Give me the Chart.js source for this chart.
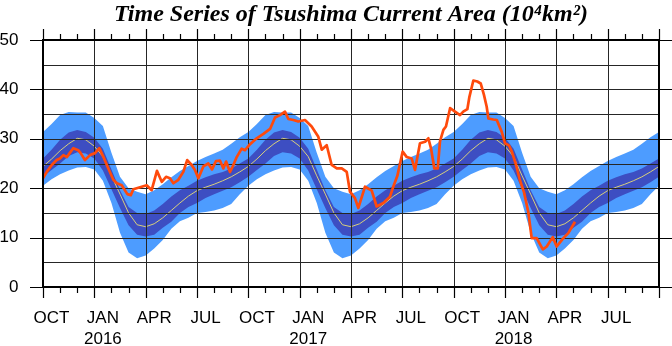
<!DOCTYPE html>
<html><head><meta charset="utf-8">
<script src="https://cdn.jsdelivr.net/npm/chart.js@4"></script>
<style>html,body{margin:0;padding:0;background:#fff}</style>
</head><body>
<canvas id="c" width="672" height="346" style="width:672px;height:346px;display:block"></canvas>
<script>
// Climatology (one seasonal cycle, half-month steps from Oct 1), 10^4 km^2
const climMonths      = [0,0.5,1,1.5,2,2.5,3,3.5,4,4.5,5,5.5,6,6.5,7,7.5,8,8.5,9,9.5,10,10.5,11,11.5];
const climLightUpper  = [31.4,33.0,34.8,35.4,35.3,35.3,34.2,32.6,27.2,22.3,20.0,19.3,18.8,19.6,20.8,22.2,23.5,24.5,25.5,26.3,27.0,27.8,29.0,30.3];
const climDarkUpper   = [26.0,27.8,29.8,31.3,31.8,31.4,30.2,28.0,23.8,19.6,16.2,15.0,14.8,15.5,16.8,18.3,19.6,20.5,21.5,22.2,22.8,23.3,24.0,25.0];
const climMean        = [24.4,25.9,27.6,29.0,30.1,29.8,28.5,26.4,22.5,18.8,15.0,12.6,12.2,12.8,14.0,15.5,17.0,18.4,19.5,20.2,20.8,21.5,22.3,23.3];
const climDarkLower   = [22.3,23.7,25.0,26.5,27.3,27.0,26.0,23.6,19.8,16.0,12.5,10.6,10.2,10.6,12.0,13.2,15.0,16.2,17.0,18.0,18.8,19.5,20.2,21.2];
const climLightLower  = [20.5,21.8,22.8,23.6,24.2,24.3,23.8,21.5,17.0,11.0,7.0,5.8,6.4,7.8,9.5,11.8,13.3,14.0,15.0,15.2,15.5,16.0,16.8,18.8];
const climYears = 3; // Oct 2015 - Oct 2018

// Observed series (months since 1 Oct 2015)
const obsMonths = [0.00,0.22,0.51,0.80,0.99,1.19,1.40,1.58,1.77,2.06,2.20,2.45,2.75,3.04,3.29,3.52,3.82,4.11,4.32,4.60,4.93,5.13,5.28,5.67,6.06,6.35,6.66,6.94,7.19,7.42,7.62,7.91,8.20,8.43,8.69,8.88,9.08,9.37,9.66,9.88,10.11,10.34,10.54,10.70,10.93,11.10,11.32,11.61,11.81,12.10,12.49,12.88,13.27,13.56,13.85,14.14,14.34,14.63,14.92,15.31,15.70,16.09,16.29,16.58,16.87,17.17,17.46,17.75,17.94,18.23,18.43,18.82,19.21,19.50,19.89,20.28,20.47,20.71,21.02,21.26,21.55,21.74,22.03,22.33,22.52,22.68,22.87,23.07,23.20,23.40,23.55,23.79,24.08,24.37,24.56,24.80,24.92,25.15,25.38,25.58,25.77,25.93,26.03,26.32,26.52,26.81,27.00,27.24,27.41,27.64,27.88,28.11,28.36,28.56,28.85,29.21,29.44,29.79,30.02,30.41,30.70,31.09];
const obsValues = [22.0,23.3,24.7,25.7,26.0,26.7,26.3,27.2,28.1,27.7,27.1,25.7,26.7,27.1,28.1,26.4,24.0,21.7,21.0,20.6,18.8,18.6,19.8,20.2,20.6,19.6,23.5,21.3,22.3,22.0,21.0,21.7,23.3,25.7,24.7,23.7,22.0,24.4,25.0,23.8,25.5,25.6,24.0,25.4,23.3,24.5,26.3,28.0,27.7,28.9,30.1,31.0,32.0,34.3,34.8,35.5,34.0,33.8,33.5,33.8,32.5,30.4,27.8,28.7,24.7,24.0,24.0,23.3,19.3,18.0,16.0,20.3,19.5,16.3,17.0,18.3,20.3,22.5,27.4,26.3,26.0,23.7,29.1,29.4,30.1,28.0,24.0,24.0,29.5,31.8,32.5,36.2,35.5,34.8,35.5,36.0,38.5,41.8,41.6,41.2,38.9,36.5,34.1,33.9,33.8,31.4,29.1,28.6,27.3,24.8,21.5,19.2,15.2,9.9,9.9,7.6,8.2,10.1,8.2,9.9,10.9,13.2];

// Axis labels
const xLabelMonths = [0.5,3.5,6.5,9.5,12.5,15.5,18.5,21.5,24.5,27.5,30.5,33.5];
const xMonthNames  = ['OCT','JAN','APR','JUL','OCT','JAN','APR','JUL','OCT','JAN','APR','JUL'];
const xYearNames   = ['','2016','','','','2017','','','','2018','',''];
const yTickValues  = [0,10,20,30,40,50];

function tile(arr){
  const out = [];
  for (let yr = 0; yr < climYears; yr++)
    for (let i = 0; i < climMonths.length; i++) out.push({x: yr*12 + climMonths[i], y: arr[i]});
  out.push({x: climYears*12 + climMonths[0], y: arr[0]});
  return out;
}
const obsData = obsMonths.map((m,i)=>({x:m, y:obsValues[i]}));

const LIGHT = '#4d9cff', DARK = '#3d4ec2', YEL = '#d8cf7c', RED = '#ff4a0c';

const axisPlugin = {
  id: 'axisPlugin',
  afterDatasetDraw(chart, args){
    if (args.index !== 4) return;
    const {ctx, chartArea:a, scales:{x,y}} = chart;
    ctx.save();
    ctx.strokeStyle = '#262626'; ctx.lineWidth = 1;
    ctx.beginPath();
    for (let v = 5; v < 50; v += 5){
      const py = Math.round(y.getPixelForValue(v)) + 0.5;
      ctx.moveTo(a.left, py); ctx.lineTo(a.right, py);
    }
    for (let m = 3; m < 36; m += 3){
      const px = Math.round(x.getPixelForValue(m)) + 0.5;
      ctx.moveTo(px, a.top); ctx.lineTo(px, a.bottom);
    }
    ctx.stroke();
    ctx.restore();
  },
  afterDraw(chart){
    const {ctx, chartArea:a, scales:{x,y}} = chart;
    ctx.save();
    ctx.strokeStyle = '#000'; ctx.lineWidth = 1.2;
    ctx.beginPath();
    for (let m = 0; m <= 36; m++){
      const px = Math.round(x.getPixelForValue(m)) + 0.5;
      const len = (m % 3 === 0) ? 11 : 6;
      ctx.moveTo(px, a.bottom); ctx.lineTo(px, a.bottom + len);
      ctx.moveTo(px, a.top); ctx.lineTo(px, a.top - len);
    }
    for (const v of yTickValues){
      const py = Math.round(y.getPixelForValue(v)) + 0.5;
      ctx.moveTo(a.left, py); ctx.lineTo(a.left - 13, py);
      ctx.moveTo(a.right, py); ctx.lineTo(a.right + 13, py);
    }
    ctx.stroke();
    ctx.lineWidth = 2;
    ctx.strokeRect(a.left, a.top, a.right - a.left, a.bottom - a.top);
    ctx.restore();
  }
};

new Chart(document.getElementById('c'), {
  type: 'line',
  data: {
    datasets: [
      {data: tile(climLightUpper), fill: {target: 1}, backgroundColor: LIGHT, borderWidth: 0, pointRadius: 0, order: 4},
      {data: tile(climLightLower), fill: false, borderWidth: 0, pointRadius: 0, order: 4},
      {data: tile(climDarkUpper), fill: {target: 3}, backgroundColor: DARK, borderWidth: 0, pointRadius: 0, order: 3},
      {data: tile(climDarkLower), fill: false, borderWidth: 0, pointRadius: 0, order: 3},
      {data: tile(climMean), fill: false, borderColor: YEL, borderWidth: 1, pointRadius: 0, order: 2},
      {data: obsData, fill: false, borderColor: RED, borderWidth: 2.7, pointRadius: 0, order: 1, borderJoinStyle: 'round'}
    ]
  },
  options: {
    responsive: false,
    animation: false,
    devicePixelRatio: 1,
    layout: {padding: {left: 0, right: 13, top: 0, bottom: 0}},
    elements: {line: {tension: 0}},
    plugins: {
      legend: {display: false},
      tooltip: {enabled: false},
      title: {
        display: true,
        fullSize: false,
        text: 'Time Series of Tsushima Current Area (10\u2074km\u00B2)',
        color: '#000',
        font: {family: "'Liberation Serif', 'DejaVu Serif', serif", size: 24, weight: 'bold', style: 'italic', lineHeight: 1.2},
        padding: {top: 0, bottom: 11.2}
      }
    },
    scales: {
      x: {
        type: 'linear', min: 0, max: 36,
        grid: {display: false, drawTicks: false},
        border: {display: false},
        afterBuildTicks: (s) => { s.ticks = xLabelMonths.map(v => ({value: v})); },
        afterFit: (s) => { s.height = 59; },
        ticks: {
          autoSkip: false, maxRotation: 0, color: '#000', padding: 20,
          font: {family: "'Liberation Sans', Arial, sans-serif", size: 17, lineHeight: 1.28},
          callback: (v) => {
            const i = xLabelMonths.indexOf(v);
            if (i < 0) return '';
            return xYearNames[i] ? [xMonthNames[i], xYearNames[i]] : xMonthNames[i];
          }
        }
      },
      y: {
        type: 'linear', min: 0, max: 50,
        grid: {display: false, drawTicks: false},
        border: {display: false},
        afterBuildTicks: (s) => { s.ticks = yTickValues.map(v => ({value: v})); },
        afterFit: (s) => { s.width = 43; },
        ticks: {color: '#000', padding: 24.5, font: {family: "'Liberation Sans', Arial, sans-serif", size: 17}}
      }
    }
  },
  plugins: [axisPlugin]
});
</script>
</body></html>
